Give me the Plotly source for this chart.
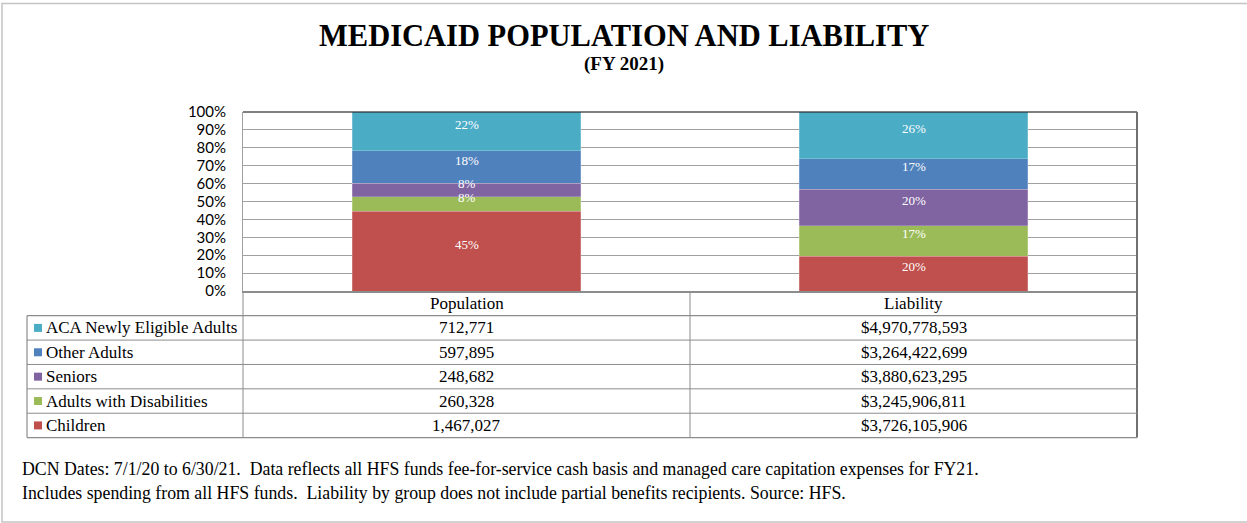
import plotly.graph_objects as go

# Medicaid enrollment and liability by eligibility group, FY 2021
groups = ["Children", "Adults with Disabilities", "Seniors", "Other Adults",
          "ACA Newly Eligible Adults"]
colors = ["#C0504D", "#9BBB59", "#8064A2", "#4F81BD", "#4BACC6"]
categories = ["Population", "Liability"]
population = [1467027, 260328, 248682, 597895, 712771]
liability = [3726105906, 3245906811, 3880623295, 3264422699, 4970778593]
y_ticks = [0, 10, 20, 30, 40, 50, 60, 70, 80, 90, 100]
y_tick_labels = [f"{v}%" for v in y_ticks]

title = "MEDICAID POPULATION AND LIABILITY"
subtitle = "(FY 2021)"
notes = [
    "DCN Dates: 7/1/20 to 6/30/21.\u00a0 Data reflects all HFS funds fee-for-service cash basis "
    "and managed care capitation expenses for FY21.",
    "Includes spending from all HFS funds.\u00a0 Liability by group does not include partial "
    "benefits recipients. Source: HFS.",
]

SERIF = "Liberation Serif, Times New Roman, serif"
SANS = "Lato, sans-serif"

pop_total = sum(population)
liab_total = sum(liability)
pop_share = [v / pop_total * 100 for v in population]
liab_share = [v / liab_total * 100 for v in liability]

fig = go.Figure()
for name, color, p, l in zip(groups, colors, pop_share, liab_share):
    fig.add_trace(go.Bar(
        name=name, x=categories, y=[p, l], width=0.512,
        marker=dict(color=color, line=dict(color="rgba(255,255,255,0.35)", width=0.6)),
        hoverinfo="name+y",
    ))

# pixel geometry of the plotting area
W_FIG, H_FIG = 1247, 523
L, R, T, B = 243, 1137, 112, 291
PW, PH = R - L, B - T


def px(x):
    return (x - L) / PW


def py(y):
    return (B - y) / PH


shapes = []
annotations = []


def line(x0, y0, x1, y1, color, width=1):
    shapes.append(dict(type="line", xref="paper", yref="paper",
                       x0=px(x0), y0=py(y0), x1=px(x1), y1=py(y1),
                       line=dict(color=color, width=width)))


def text(x, y, s, size, color="black", family=SERIF, anchor="center", bold=False):
    if bold:
        s = f"<b>{s}</b>"
    annotations.append(dict(xref="paper", yref="paper", x=px(x), y=py(y), text=s,
                            showarrow=False, xanchor=anchor, yanchor="middle",
                            font=dict(family=family, size=size, color=color)))


# percentage labels inside each stacked segment
for ci, shares in enumerate([pop_share, liab_share]):
    base = 0.0
    for s in shares:
        annotations.append(dict(x=categories[ci], y=base + s / 2, xref="x", yref="y",
                                text=f"{s:.0f}%", showarrow=False, yshift=7,
                                font=dict(family=SERIF, size=13, color="white")))
        base += s

# outer frame of the whole graphic
shapes.append(dict(type="rect", xref="paper", yref="paper",
                   x0=px(2), y0=py(3.5), x1=px(1252), y1=py(522),
                   line=dict(color="#C4C4C4", width=1.5)))

# plot frame: black top edge
line(L, T, R, T, "black", 1)

# data table under the bars
GRID = "#8C8C8C"
row_top = 315.7
row_h = 24.38
n_rows = len(groups)
table_bottom = row_top + n_rows * row_h
mid_x = (L + R) / 2
line(L, B, L, table_bottom, GRID, 1)
line(mid_x, B, mid_x, table_bottom, GRID, 1)
line(R, T, R, table_bottom, "#707070", 2)
line(27, row_top, 27, table_bottom, GRID, 1.2)
for i in range(n_rows + 1):
    y = row_top + i * row_h
    line(27, y, R, y, GRID, 1.2 if i in (0, n_rows) else 1)

col_centers = [(L + mid_x) / 2, (mid_x + R) / 2]
for cat, xc in zip(categories, col_centers):
    text(xc, 303, cat, 17)

rows = list(zip(groups, colors, population, liability))[::-1]
for i, (name, color, p, l) in enumerate(rows):
    yc = row_top + (i + 0.5) * row_h
    shapes.append(dict(type="rect", xref="paper", yref="paper",
                       x0=px(34), x1=px(42), y0=py(yc - 4), y1=py(yc + 4),
                       fillcolor=color, line=dict(width=0)))
    text(43.5, yc, name, 17, anchor="left")
    text(col_centers[0], yc, f"{p:,}", 17)
    text(col_centers[1], yc, f"${l:,}", 17)

# headings and footnotes
text(624, 36, title, 30.5, bold=True)
text(624, 64, subtitle, 19, bold=True)
text(20, 469, notes[0], 17.8, anchor="left")
text(20, 493, notes[1], 17.8, anchor="left")

fig.update_layout(
    width=W_FIG, height=H_FIG,
    margin=dict(l=L, r=W_FIG - R, t=T, b=H_FIG - B, pad=0),
    barmode="stack", bargap=0.488,
    showlegend=False,
    plot_bgcolor="white", paper_bgcolor="white",
    shapes=shapes, annotations=annotations,
    xaxis=dict(type="category", range=[-0.5, 1.5], showline=True, linecolor="#8C8C8C",
               linewidth=1.5, ticks="", showgrid=False, showticklabels=False),
    yaxis=dict(range=[0, 100], tickvals=y_ticks, ticktext=y_tick_labels, showgrid=True,
               gridcolor="#A0A0A0", gridwidth=1, zeroline=False, showline=True,
               linecolor="#A0A0A0", linewidth=1, ticks="",
               tickfont=dict(family=SANS, size=15, color="black"),
               ticklabelstandoff=13),
)

fig.write_html("out.html")
